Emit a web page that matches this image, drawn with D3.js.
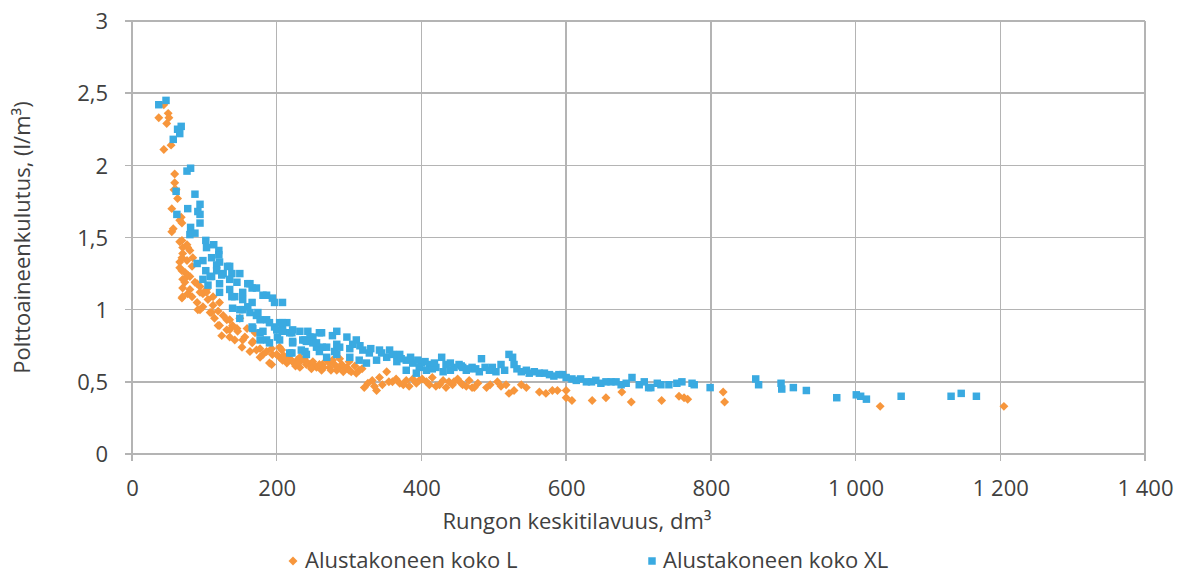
<!DOCTYPE html>
<html><head><meta charset="utf-8">
<script src="https://cdn.jsdelivr.net/npm/d3@7"></script>
<style>
body{margin:0;background:#fff;}
text{font-family:"Open Sans","Noto Sans",sans-serif;fill:#404040;}
</style></head>
<body><svg id="c" width="1185" height="576"></svg>
<script>
const xTicks = [0,200,400,600,800,1000,1200,1400];
const yTicks = [0,0.5,1,1.5,2,2.5,3];
const seriesNames = ["Alustakoneen koko L","Alustakoneen koko XL"];
const xTitle = "Rungon keskitilavuus, dm³";
const yTitle = "Polttoaineenkulutus, (l/m³)";

// Alustakoneen koko L  [dm3, l/m3]
const seriesL = [
[37,2.33],[50,2.36],[51,2.33],[48,2.29],[44,2.42],[54,2.14],[44,2.11],
[59,1.94],[59,1.88],[58,1.83],[63,1.77],[55,1.70],[68,1.64],[69,1.60],[57,1.56],
[61,1.83],[66,1.62],[55,1.54],[69,1.48],[76,1.45],[80,1.41],[70,1.39],[66,1.33],[76,1.34],[83,1.30],[69,1.27],[77,1.24],[73,1.19],[87,1.19],[70,1.15],[94,1.16],[69,1.08],[83,1.09],[98,1.11],[77,1.11],[90,1.05],[105,1.07],[98,1.02],[112,1.03],[91,1.00],[119,0.99],[108,0.98],[126,0.96],[114,0.94],[131,0.93],[121,0.89],[139,0.89],[135,0.86],[146,0.85],[124,0.82],[159,0.87],[142,0.79],[156,0.81],[166,0.77],[152,0.74],[172,0.72],[186,0.71],[194,0.69],[177,0.67],[204,0.67],[193,0.62],[214,0.63],[222,0.64],[234,0.65],[245,0.62],[255,0.60],
[70,1.43],[77,1.43],[69,1.36],[84,1.36],[66,1.29],[73,1.26],[70,1.21],[80,1.23],[90,1.18],[80,1.14],[70,1.09],[94,1.12],[103,1.12],[66,1.47],
[76,1.23],[103,1.14],[112,1.09],[121,1.05],[94,1.00],[110,0.98],[135,0.93],[149,0.94],[119,0.89],[131,0.86],[145,0.87],[170,0.84],[135,0.81],[153,0.79],[167,0.78],[177,0.73],[193,0.73],[204,0.74],[163,0.71],[181,0.69],[200,0.69],[214,0.67],[190,0.63],[208,0.65],[228,0.65],[241,0.62],[259,0.62],[273,0.60],[283,0.58],[232,0.60],[250,0.64],[269,0.65],
[207,0.72],[214,0.65],[222,0.64],[232,0.67],[241,0.64],[250,0.62],[263,0.62],[273,0.63],[277,0.65],[287,0.60],[297,0.60],[303,0.57],[314,0.58],[326,0.49],[332,0.51],[342,0.53],[352,0.57],[346,0.48],[360,0.50],[370,0.49],[379,0.51],[393,0.49],[397,0.51],[407,0.50],[415,0.53],[425,0.48],[434,0.46],[443,0.48],[455,0.49],[466,0.51],[470,0.46],[321,0.46],[338,0.44],
[210,0.68],[226,0.61],[238,0.66],[262,0.58],[280,0.62],[292,0.57],[308,0.61],[318,0.59],[300,0.64],[287,0.66],
[383,0.47],[401,0.52],[420,0.47],[438,0.50],[450,0.52],[462,0.47],[411,0.48],[388,0.52],
[265,0.60],[275,0.58],[290,0.62],[300,0.58],[310,0.56],[230,0.63],[218,0.66],[248,0.59],[335,0.47],[355,0.50],[365,0.52],[375,0.48],[430,0.51],[445,0.50],[478,0.49],[495,0.48],[510,0.47],[528,0.44],[545,0.46],
[457,0.48],[473,0.46],[490,0.46],[505,0.50],[517,0.48],[521,0.42],[538,0.48],[563,0.43],[572,0.42],[581,0.44],[588,0.44],[600,0.44],[600,0.39],[608,0.37],[636,0.37],[655,0.39],[677,0.43],[690,0.36],
[732,0.37],[756,0.40],[763,0.39],[768,0.38],[817,0.43],[819,0.36],
[1034,0.33],[1205,0.33]
];

// Alustakoneen koko XL  [dm3, l/m3]
const seriesXL = [
[37,2.42],[47,2.45],[68,2.27],[63,2.25],[66,2.22],[57,2.18],[81,1.98],[76,1.96],[61,1.82],[87,1.80],[94,1.73],[77,1.70],[91,1.68],[94,1.66],[62,1.66],[94,1.60],[81,1.57],
[87,1.53],[80,1.52],[102,1.48],[113,1.45],[103,1.43],[120,1.41],[110,1.36],[120,1.38],[98,1.34],[90,1.32],[117,1.31],[102,1.27],[135,1.30],[149,1.25],[126,1.25],[108,1.23],[98,1.21],[121,1.18],[160,1.18],[145,1.19],[105,1.17],[135,1.14],[166,1.15],[121,1.12],[181,1.10],[142,1.09],[153,1.07],[194,1.08],[208,1.05],[139,1.01],[149,1.00],[160,1.02],[172,0.96],[149,0.94],[186,0.93],[166,0.88],[177,0.84],[197,0.88],[208,0.89],[186,0.79],[201,0.81],[218,0.84],[232,0.85],[222,0.77],[239,0.79],[250,0.81],[255,0.74],[221,0.70],[234,0.72],
[121,1.33],[132,1.30],[117,1.27],[110,1.23],[124,1.24],[138,1.25],[135,1.21],
[163,1.18],[172,1.15],[186,1.10],[197,1.05],[138,1.09],[153,1.12],[166,1.05],[153,1.00],[163,0.98],[174,0.98],[177,0.93],[190,0.91],[204,0.91],[214,0.91],[167,0.87],[181,0.85],[200,0.86],[208,0.85],[221,0.84],[243,0.85],[259,0.84],[277,0.82],[177,0.79],[190,0.77],[204,0.79],[222,0.78],[236,0.79],[250,0.77],[263,0.74],[283,0.76],[239,0.71],[269,0.67],[280,0.71],
[208,0.91],[222,0.86],[246,0.81],[262,0.84],[283,0.85],[297,0.81],[310,0.79],[241,0.78],[255,0.77],[269,0.74],[287,0.74],[301,0.73],[319,0.72],[328,0.70],[342,0.72],[356,0.72],[370,0.69],[218,0.70],[241,0.69],[259,0.71],[283,0.69],[301,0.67],[314,0.65],[324,0.63],[338,0.65],[352,0.67],[366,0.64],[379,0.65],[388,0.63],[397,0.60],[411,0.62],[428,0.67],[434,0.62],[452,0.62],[470,0.60],[379,0.58],[407,0.58],[393,0.56],
[420,0.60],[440,0.58],[462,0.58],[445,0.60],[400,0.63],[415,0.59],[430,0.57],
[305,0.76],[315,0.75],[330,0.73],[345,0.70],[360,0.69],[372,0.66],[385,0.67],[395,0.65],[405,0.64],[418,0.63],[440,0.63],[455,0.61],[465,0.59],[475,0.59],[488,0.60],[498,0.60],[515,0.58],[532,0.59],[545,0.58],[556,0.57],[570,0.56],[583,0.54],[595,0.55],[608,0.52],[620,0.52],[635,0.50],[648,0.49],[662,0.50],[676,0.48],
[457,0.60],[483,0.66],[494,0.58],[510,0.62],[521,0.69],[526,0.67],[528,0.62],[538,0.57],[549,0.56],[563,0.56],[577,0.55],[590,0.55],[600,0.53],[614,0.51],[628,0.50],[641,0.51],[655,0.50],[669,0.50],[683,0.49],[691,0.53],[701,0.48],[714,0.46],[726,0.49],[503,0.57],[480,0.57],
[708,0.50],[717,0.46],[731,0.48],[742,0.48],[753,0.49],[760,0.50],[774,0.49],[777,0.48],[799,0.46],[862,0.52],[866,0.48],[897,0.49],[898,0.45],[914,0.46],[932,0.44],[974,0.39],
[1001,0.41],[1007,0.40],[1015,0.38],[1063,0.40],[1132,0.40],[1146,0.42],[1167,0.40]
];

const colL = "#f7963c", colXL = "#3aaae1", gridCol = "#b4b4b4";
const FS = 22;
const svg = d3.select("#c");
const L = 132, R = 1145, T = 21, B = 454;
const x = d3.scaleLinear().domain([0,1400]).range([L,R]);
const y = d3.scaleLinear().domain([0,3]).range([B,T]);

const fmtX = d => d3.format(",")(d).replace(/,/g," ");
const fmtY = d => String(d).replace(".",",");

// grid
svg.append("g").selectAll("line").data(yTicks).join("line")
  .attr("x1",L-7).attr("x2",R).attr("y1",d=>y(d)).attr("y2",d=>y(d))
  .attr("stroke",gridCol).attr("stroke-width",1.5).attr("shape-rendering","crispEdges");
svg.append("g").selectAll("line").data(xTicks).join("line")
  .attr("x1",d=>x(d)).attr("x2",d=>x(d)).attr("y1",T).attr("y2",B+7)
  .attr("stroke",gridCol).attr("stroke-width",1.5).attr("shape-rendering","crispEdges");

// axes labels via d3 axes
const xAxis = svg.append("g").attr("transform",`translate(0,${B})`)
  .call(d3.axisBottom(x).tickValues(xTicks).tickFormat(fmtX).tickSize(0).tickPadding(26));
const yAxis = svg.append("g").attr("transform",`translate(${L},0)`)
  .call(d3.axisLeft(y).tickValues(yTicks).tickFormat(fmtY).tickSize(0).tickPadding(24));
[xAxis,yAxis].forEach(a=>{a.select(".domain").remove();
  a.selectAll("text").attr("font-size",FS).attr("font-family","'Open Sans','Noto Sans',sans-serif").attr("fill","#404040");});
yAxis.selectAll("text").attr("dy","0.35em");

// points
const diamond = d3.symbol().type(d3.symbolSquare).size(40);
const square = d3.symbol().type(d3.symbolSquare).size(56);
svg.append("g").selectAll("path").data(seriesL).join("path")
  .attr("d",diamond).attr("fill",colL)
  .attr("transform",d=>`translate(${x(d[0])},${y(d[1])}) rotate(45)`);
svg.append("g").selectAll("path").data(seriesXL).join("path")
  .attr("d",square).attr("fill",colXL)
  .attr("transform",d=>`translate(${x(d[0])},${y(d[1])})`);

// titles
svg.append("text").attr("x",577).attr("y",529).attr("text-anchor","middle")
  .attr("font-size",FS).text(xTitle);
svg.append("text").attr("transform",`translate(30,${(T+B)/2}) rotate(-90)`).attr("text-anchor","middle")
  .attr("font-size",FS).text(yTitle);

// legend
const lg = svg.append("g");
lg.append("path").attr("d",diamond).attr("fill",colL).attr("transform","translate(293,561) rotate(45)");
lg.append("text").attr("x",305).attr("y",568).attr("font-size",FS).text(seriesNames[0]);
lg.append("path").attr("d",square).attr("fill",colXL).attr("transform","translate(652,561)");
lg.append("text").attr("x",663).attr("y",568).attr("font-size",FS).text(seriesNames[1]);
</script></body></html>
